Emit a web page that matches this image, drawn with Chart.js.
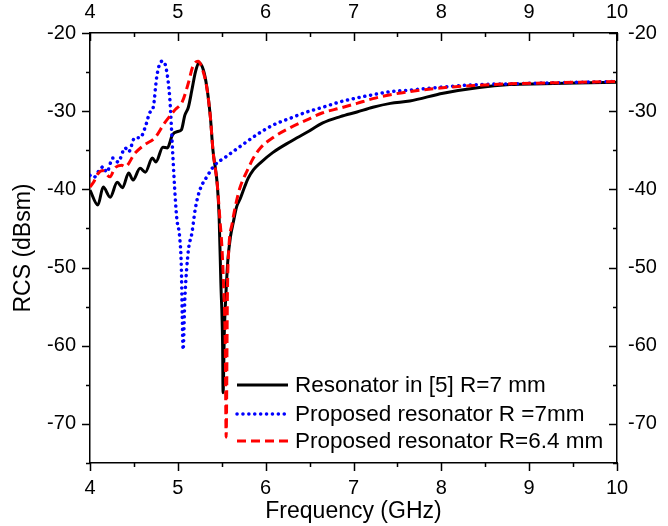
<!DOCTYPE html>
<html>
<head>
<meta charset="utf-8">
<script src="https://cdn.jsdelivr.net/npm/chart.js@4.4.1/dist/chart.umd.min.js"></script>
<style>
  html, body { margin: 0; padding: 0; background: #fff; }
  #wrap { width: 668px; height: 526px; position: relative; }
</style>
</head>
<body>
<div id="wrap"><canvas id="rcsChart"></canvas></div>
<script>
// tick labels
const xTickValues = [4, 5, 6, 7, 8, 9, 10];
const yTickValues = [-70, -60, -50, -40, -30, -20];

// Resonator in [5] R=7 mm (black, solid)
const freqRef = [4.00, 4.09, 4.15, 4.23, 4.31, 4.37, 4.44, 4.49, 4.57, 4.63, 4.71, 4.75, 4.83, 4.88, 4.94, 5.00, 5.04,
  5.08, 5.12, 5.16, 5.20, 5.24, 5.29, 5.33, 5.37, 5.40, 5.45, 5.47, 5.49, 5.51, 5.515, 5.53, 5.545, 5.57, 5.60, 5.63,
  5.67, 5.71, 5.76, 5.80, 5.86, 5.94, 6.08, 6.28, 6.47, 6.65, 6.85, 7.04, 7.22, 7.42, 7.64, 8.02, 8.41, 8.78, 9.16, 9.54, 10.00];
const rcsRef = [-40.1, -42.0, -39.7, -41.0, -39.1, -39.8, -37.9, -38.8, -37.3, -37.8, -36.0, -36.5, -34.6, -34.7, -33.0, -32.6, -32.4,
  -30.5, -29.5, -27.3, -25.0, -23.8, -24.7, -26.9, -30.7, -35.0, -39.5, -43.5, -52.0, -60.0, -66.0, -58.0, -54.0, -49.0, -46.0, -44.3,
  -42.2, -41.2, -39.7, -38.6, -37.5, -36.6, -35.3, -33.9, -32.7, -31.5, -30.7, -30.1, -29.5, -29.0, -28.7, -27.7, -27.0, -26.6, -26.5, -26.4, -26.3];

// Proposed resonator R =7mm (blue, dotted)
const freqR7 = [4.00, 4.04, 4.11, 4.15, 4.19, 4.26, 4.32, 4.40, 4.44, 4.51, 4.57, 4.63, 4.68, 4.72, 4.76, 4.80, 4.83, 4.87,
  4.91, 4.94, 4.97, 4.99, 5.02, 5.04, 5.05, 5.06, 5.08, 5.12, 5.16, 5.20, 5.25, 5.33, 5.42, 5.54, 5.65, 5.76, 5.90, 6.08,
  6.28, 6.47, 6.65, 6.85, 7.04, 7.22, 7.42, 7.64, 8.02, 8.41, 8.78, 9.16, 9.54, 10.00];
const rcsR7 = [-38.2, -38.5, -37.5, -37.1, -37.8, -36.0, -36.5, -34.7, -35.2, -33.4, -33.4, -32.0, -30.2, -29.5, -25.6, -23.8, -23.6, -24.7,
  -28.6, -35.0, -41.0, -43.9, -46.0, -50.0, -56.0, -60.5, -54.0, -47.8, -45.6, -42.4, -40.1, -38.4, -36.9, -35.9, -35.0, -34.1, -33.0, -31.8,
  -30.9, -30.1, -29.5, -28.8, -28.3, -27.9, -27.5, -27.3, -26.9, -26.6, -26.5, -26.4, -26.3, -26.2];

// Proposed resonator R=6.4 mm (red, dashed)
const freqR64 = [4.00, 4.04, 4.09, 4.14, 4.23, 4.28, 4.36, 4.40, 4.51, 4.62, 4.74, 4.85, 4.97, 5.05, 5.12, 5.17, 5.23, 5.29,
  5.33, 5.37, 5.40, 5.45, 5.48, 5.50, 5.52, 5.54, 5.55, 5.565, 5.58, 5.62, 5.67, 5.71, 5.79, 5.86, 5.94, 6.08, 6.28, 6.47,
  6.65, 6.85, 7.04, 7.22, 7.42, 7.64, 8.02, 8.41, 8.78, 9.16, 9.54, 10.00];
const rcsR64 = [-39.7, -39.1, -38.0, -37.6, -38.4, -37.3, -36.9, -37.1, -35.4, -34.3, -33.4, -31.5, -29.8, -28.8, -26.4, -24.3, -23.6, -25.0,
  -27.0, -30.7, -35.0, -39.5, -44.0, -47.0, -52.0, -60.0, -71.7, -53.0, -47.7, -44.3, -41.4, -39.7, -37.6, -36.0, -34.7, -33.4, -32.1, -31.1,
  -30.2, -29.6, -29.0, -28.4, -27.9, -27.5, -27.0, -26.7, -26.5, -26.4, -26.3, -26.2];

const toPoints = (xs, ys) => xs.map((x, i) => ({ x: x, y: ys[i] }));

const FONT = "'Liberation Sans', Arial, sans-serif";

// draws major/minor tick marks on all four sides
const tickMarks = {
  id: 'tickMarks',
  afterDraw(chart) {
    const ctx = chart.ctx;
    const area = chart.chartArea;
    ctx.save();
    ctx.strokeStyle = '#000';
    ctx.lineWidth = 1.5;
    ctx.beginPath();
    const xs = chart.scales.x;
    for (let v = 4; v <= 10.001; v += 0.5) {
      const px = Math.round(xs.getPixelForValue(v)) + 0.5;
      const len = Math.abs(v - Math.round(v)) < 1e-6 ? 8 : 4;
      ctx.moveTo(px, area.bottom); ctx.lineTo(px, area.bottom + len);
      ctx.moveTo(px, area.top); ctx.lineTo(px, area.top + len);
    }
    const ys = chart.scales.y;
    for (let v = -75; v <= -19.999; v += 5) {
      const py = Math.round(ys.getPixelForValue(v)) + 0.5;
      const len = v % 10 === 0 ? 8 : 4;
      ctx.moveTo(area.left, py); ctx.lineTo(area.left - len, py);
      ctx.moveTo(area.right, py); ctx.lineTo(area.right - len, py);
    }
    ctx.stroke();
    ctx.restore();
  }
};

// legend drawn inside the plot, no frame
const insideLegend = {
  id: 'insideLegend',
  afterDraw(chart, args, opts) {
    const ctx = chart.ctx;
    ctx.save();
    ctx.font = '22.5px ' + FONT;
    ctx.textBaseline = 'middle';
    chart.data.datasets.forEach((ds, i) => {
      const y = opts.rows[i];
      ctx.beginPath();
      ctx.strokeStyle = ds.borderColor;
      ctx.lineWidth = ds.borderWidth;
      ctx.setLineDash(ds.borderDash || []);
      ctx.lineCap = ds.borderCapStyle || 'butt';
      ctx.moveTo(opts.x0, y);
      ctx.lineTo(opts.x1, y);
      ctx.stroke();
      ctx.setLineDash([]);
      ctx.fillStyle = '#000';
      ctx.fillText(ds.label, opts.textX, y + 1);
    });
    ctx.restore();
  }
};

const fixedSize = (size) => (scale) => {
  if (scale.isHorizontal()) scale.height = size; else scale.width = size;
};

const ctx = document.getElementById('rcsChart').getContext('2d');
const rcsChart = new Chart(ctx, {
  type: 'line',
  data: {
    datasets: [
      {
        label: 'Resonator in [5] R=7 mm',
        data: toPoints(freqRef, rcsRef),
        borderColor: '#000000',
        borderWidth: 3,
        order: 2
      },
      {
        label: 'Proposed resonator R =7mm',
        data: toPoints(freqR7, rcsR7),
        borderColor: '#0000ff',
        borderWidth: 3.5,
        borderDash: [0.1, 5.8],
        borderCapStyle: 'round',
        order: 1
      },
      {
        label: 'Proposed resonator R=6.4 mm',
        data: toPoints(freqR64, rcsR64),
        borderColor: '#ff0000',
        borderWidth: 3,
        borderDash: [9, 5],
        order: 0
      }
    ]
  },
  options: {
    responsive: true,
    maintainAspectRatio: false,
    animation: false,
    layout: { padding: 0 },
    elements: {
      point: { radius: 0 },
      line: { cubicInterpolationMode: 'monotone', fill: false }
    },
    plugins: {
      legend: { display: false },
      tooltip: { enabled: false },
      insideLegend: { x0: 237, x1: 288, textX: 295, rows: [385, 414, 441] }
    },
    scales: {
      x: {
        type: 'linear', position: 'bottom', min: 4, max: 10,
        afterBuildTicks: (s) => { s.ticks = xTickValues.map(v => ({ value: v })); },
        afterFit: fixedSize(63),
        grid: { display: false, drawTicks: false },
        border: { display: true, color: '#000', width: 1.5 },
        ticks: { color: '#000', padding: 13, maxRotation: 0, autoSkip: false, font: { family: FONT, size: 20 }, callback: (v) => String(v) },
        title: { display: true, text: 'Frequency (GHz)', color: '#000', padding: { top: 0, bottom: 1 }, font: { family: FONT, size: 23 } }
      },
      x2: {
        type: 'linear', position: 'top', min: 4, max: 10,
        afterBuildTicks: (s) => { s.ticks = xTickValues.map(v => ({ value: v })); },
        afterFit: fixedSize(33),
        grid: { display: false, drawTicks: false },
        border: { display: true, color: '#000', width: 1.5 },
        ticks: { color: '#000', padding: 9, maxRotation: 0, autoSkip: false, font: { family: FONT, size: 20 }, callback: (v) => String(v) }
      },
      y: {
        type: 'linear', position: 'left', min: -75, max: -20,
        afterBuildTicks: (s) => { s.ticks = yTickValues.map(v => ({ value: v })); },
        afterFit: fixedSize(90),
        grid: { display: false, drawTicks: false },
        border: { display: true, color: '#000', width: 1.5 },
        ticks: { color: '#000', padding: 14, autoSkip: false, font: { family: FONT, size: 20 }, callback: (v) => String(v) },
        title: { display: true, text: 'RCS (dBsm)', color: '#000', padding: { top: 10, bottom: 0 }, font: { family: FONT, size: 23 } }
      },
      y2: {
        type: 'linear', position: 'right', min: -75, max: -20,
        afterBuildTicks: (s) => { s.ticks = yTickValues.map(v => ({ value: v })); },
        afterFit: fixedSize(51),
        grid: { display: false, drawTicks: false },
        border: { display: true, color: '#000', width: 1.5 },
        ticks: { color: '#000', padding: 11, autoSkip: false, font: { family: FONT, size: 20 }, callback: (v) => String(v) }
      }
    }
  },
  plugins: [tickMarks, insideLegend]
});
</script>
</body>
</html>
